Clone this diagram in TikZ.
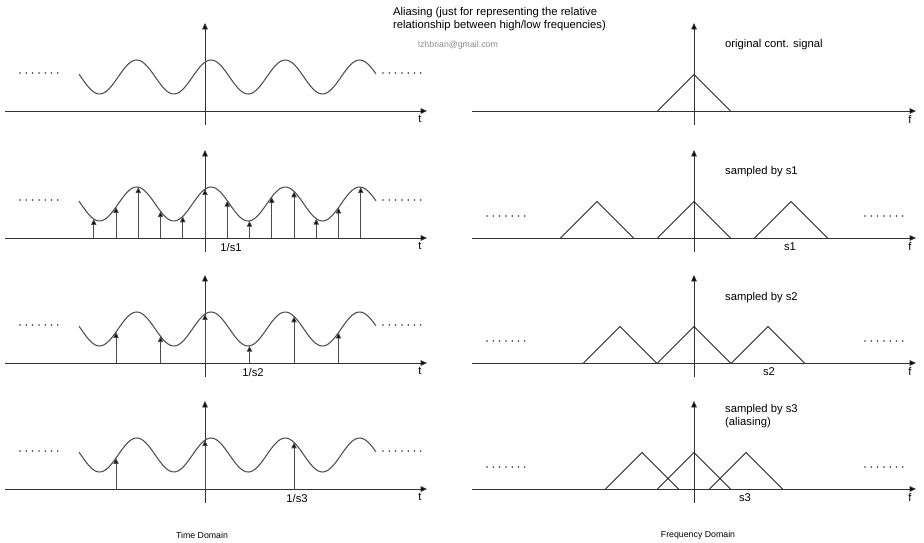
\documentclass[tikz,border=0pt]{standalone}
\usepackage{fontspec}
\setmainfont{Liberation Sans}
\usetikzlibrary{arrows.meta,positioning,calc}

\tikzset{
  axis/.style={draw=black!80, line width=0.75pt, -{Triangle[length=5.5pt,width=4.8pt,fill=black]}},
  sample/.style={draw=black!70, line width=0.7pt, -{Triangle[length=5pt,width=4.5pt,fill=black]}},
  wave/.style={draw=black!70, line width=0.9pt},
  spec/.style={draw=black!85, line width=0.65pt},
  more/.style={draw=black!80, line width=1.5pt, line cap=round, dash pattern=on 0pt off 5.38pt},
  lbl/.style={font=\fontsize{9.6}{11.2}\selectfont, inner sep=0pt},
  small/.style={font=\fontsize{7.5}{9}\selectfont, inner sep=0pt}
}

\begin{document}
\begin{tikzpicture}[%
x=0.03cm, y=-0.03cm,
declare function={wv(\x)=34+17*cos(4.8452*(\x-211));}
]
\useasboundingbox (0,0) rectangle (924,543);

\node[lbl, align=left, anchor=west] (title) at (393,19.5)
  {Aliasing (just for representing the relative\\relationship between high/low frequencies)};
\node[small, text=black!45] (mail) at (458,45) {lzhbrian@gmail.com};

% axes, signal and spectrum of every row
\foreach \r/\ay in {1/111, 2/238, 3/363, 4/489} {
  \coordinate (tw\r) at (5,\ay);
  \coordinate (te\r) at (427,\ay);
  \coordinate (ts\r) at (205,\ay+14);
  \coordinate (tn\r) at (205,\ay-88);
  \draw[axis] (tw\r) -- (te\r);
  \draw[axis] (ts\r) -- (tn\r);
  \node[lbl] (t\r) at (420,\ay+8) {t};
  \draw[wave] plot[domain=79:376, samples=150] (\x,{\ay-wv(\x)});
  \draw[more] (20,\ay-38) -- (59,\ay-38);
  \draw[more] (383,\ay-38) -- (422,\ay-38);

  \coordinate (fw\r) at (472,\ay);
  \coordinate (fe\r) at (916,\ay);
  \coordinate (fs\r) at (694,\ay+14);
  \coordinate (fn\r) at (694,\ay-88);
  \draw[axis] (fw\r) -- (fe\r);
  \draw[axis] (fs\r) -- (fn\r);
  \node[lbl] (f\r) at (910,\ay+8) {f};
}

% original signal
\draw[spec] (657.5,111) -- (694,74.5) -- (730.5,111);
\node[lbl, anchor=west] (orig) at (725,45) {original cont. signal};

% sampled rows: step / first / last sample, spectrum shift
\foreach \r/\ay/\ds/\ka/\kb/\sh in {2/238/22.25/-5/7/97, 3/363/44.5/-2/3/74, 4/489/89/-1/1/52} {
  \foreach \k in {\ka,...,\kb} {
    \pgfmathsetmacro\sx{205+\k*\ds}
    \coordinate (b\r\k) at (\sx,\ay);
    \coordinate (h\r\k) at (\sx,{\ay-wv(\sx)});
    \draw[sample] (b\r\k) -- (h\r\k);
  }
  \foreach \c in {-1,0,1}
    \draw[spec] (694+\c*\sh-36.5,\ay) -- (694+\c*\sh,\ay-36.5) -- (694+\c*\sh+36.5,\ay);
  \draw[more] (487,\ay-22) -- (526,\ay-22);
  \draw[more] (865,\ay-22) -- (904,\ay-22);
}

\node[lbl] (p1) at (231,247) {1/s1};
\node[lbl] (p2) at (253,372) {1/s2};
\node[lbl] (p3) at (297,498) {1/s3};
\node[lbl] (s1) at (790,247) {s1};
\node[lbl] (s2) at (769,372) {s2};
\node[lbl] (s3) at (745,498) {s3};

\node[lbl, anchor=west] (by1) at (725,172) {sampled by s1};
\node[lbl, anchor=west] (by2) at (725,298) {sampled by s2};
\node[lbl, anchor=west, align=left] (by3) at (725,416) {sampled by s3\\(aliasing)};

\node[small] (time) at (202,535) {Time Domain};
\node[small] (freq) at (698,535) {Frequency Domain};
\end{tikzpicture}
\end{document}
